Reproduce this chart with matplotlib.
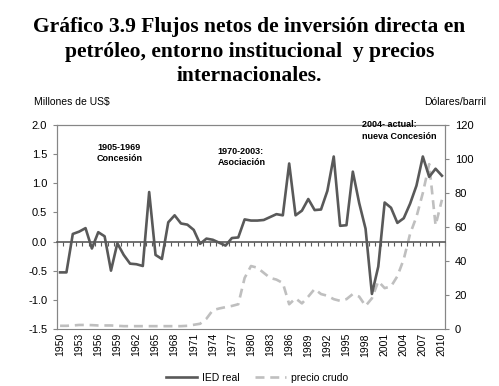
import matplotlib
matplotlib.use("Agg")
import matplotlib.pyplot as plt
from matplotlib.ticker import FormatStrFormatter, MultipleLocator
import numpy as np

plt.rcParams['axes.unicode_minus'] = False
plt.rcParams['font.family'] = ['Liberation Sans', 'DejaVu Sans']

# datos
years = list(range(1950, 2011))
ied_real = [-0.53, -0.53, 0.13, 0.17, 0.23, -0.12, 0.16, 0.09, -0.50, -0.03,
            -0.23, -0.38, -0.39, -0.42, 0.85, -0.23, -0.30, 0.33, 0.45, 0.31,
            0.29, 0.20, -0.04, 0.05, 0.03, -0.02, -0.07, 0.06, 0.07, 0.38,
            0.36, 0.36, 0.37, 0.42, 0.47, 0.45, 1.34, 0.45, 0.53, 0.73,
            0.54, 0.55, 0.87, 1.46, 0.27, 0.28, 1.20, 0.66, 0.22, -0.90,
            -0.43, 0.67, 0.58, 0.32, 0.40, 0.65, 0.96, 1.46, 1.11, 1.25,
            1.13]
precio_crudo = [1.8, 1.8, 2.0, 2.3, 2.3, 2.2, 2.0, 2.0, 2.0, 1.8,
                1.6, 1.6, 1.6, 1.6, 1.6, 1.6, 1.6, 1.6, 1.6, 1.6,
                1.8, 2.4, 3.0, 6.0, 11.0, 12.0, 12.8, 13.5, 14.5, 30.0,
                37.0, 36.0, 33.0, 30.0, 29.0, 27.0, 14.5, 18.0, 15.0, 19.0,
                23.5, 20.5, 19.5, 17.5, 16.5, 17.5, 20.5, 19.0, 13.5, 18.0,
                28.0, 24.0, 25.0, 31.0, 41.0, 56.0, 66.0, 80.0, 97.0, 61.0,
                76.0]
xtick_years = list(range(1950, 2011, 3))

dark = '#595959'
light = '#bfbfbf'
frame = '#868686'

fig = plt.figure(figsize=(4.99, 3.86), dpi=100)
ax = fig.add_axes([0.114, 0.148, 0.778, 0.528])
ax2 = ax.twinx()

ax.plot(years, ied_real, color=dark, lw=1.9, label='IED real', zorder=3)
ax2.plot(years, precio_crudo, color=light, lw=1.9, dashes=(3.4, 2.2),
         label='precio crudo')
ax.set_zorder(ax2.get_zorder() + 1)
ax.patch.set_visible(False)

ax.set_xlim(1949.5, 2010.5)
ax.set_ylim(-1.5, 2.0)
ax2.set_ylim(0, 120)
ax.yaxis.set_major_locator(MultipleLocator(0.5))
ax.yaxis.set_major_formatter(FormatStrFormatter('%.1f'))
ax2.yaxis.set_major_locator(MultipleLocator(20))

# eje de categorias cruzando en cero, con marcas por año
ax.spines['bottom'].set_position(('data', 0))
ax.spines['bottom'].set_color(dark)
ax.spines['bottom'].set_linewidth(1.2)
ax.set_xticks(np.arange(1949.5, 2011, 1.0))
ax.tick_params(axis='x', length=3, width=0.8, color=dark, labelbottom=False)

sec = ax.secondary_xaxis('bottom')
sec.set_xticks(xtick_years)
sec.set_xticklabels([str(y) for y in xtick_years], rotation=90, fontsize=7.5)
sec.tick_params(length=0, pad=3)
sec.spines['bottom'].set_color(frame)

for a in (ax, ax2):
    for s in ('top', 'left', 'right'):
        a.spines[s].set_color(frame)
    a.spines['bottom'].set_visible(a is ax)
ax.tick_params(axis='y', labelsize=8, length=3, color=frame, pad=4)
ax2.tick_params(axis='y', labelsize=8, length=3, color=frame, pad=4)

# etiquetas de periodos
ax.text(1955.8, 1.70, '1905-1969\nConcesión', fontsize=6.5, fontweight='bold',
        va='top', ha='left', linespacing=1.3)
ax.text(1974.8, 1.62, '1970-2003:\nAsociación', fontsize=6.5, fontweight='bold',
        va='top', ha='left', linespacing=1.3)
ax.text(1997.4, 2.08, '2004- actual:\nnueva Concesión', fontsize=6.5,
        fontweight='bold', va='top', ha='left', linespacing=1.3, clip_on=False)

fig.text(0.5, 0.955, 'Gráfico 3.9 Flujos netos de inversión directa en\n'
         'petróleo, entorno institucional  y precios\ninternacionales.',
         ha='center', va='top', fontsize=15.5, fontweight='bold',
         family='Liberation Serif', linespacing=1.3)
fig.text(0.068, 0.735, 'Millones de US$', fontsize=7.5, ha='left', va='center')
fig.text(0.975, 0.735, 'Dólares/barril', fontsize=7.5, ha='right', va='center')

h1, l1 = ax.get_legend_handles_labels()
h2, l2 = ax2.get_legend_handles_labels()
fig.legend(h1 + h2, l1 + l2, loc='center', bbox_to_anchor=(0.515, 0.022),
           ncol=2, frameon=False, fontsize=7.5, handlelength=3.0,
           columnspacing=1.4, handletextpad=0.5)

fig.savefig('out.png', dpi=100)
